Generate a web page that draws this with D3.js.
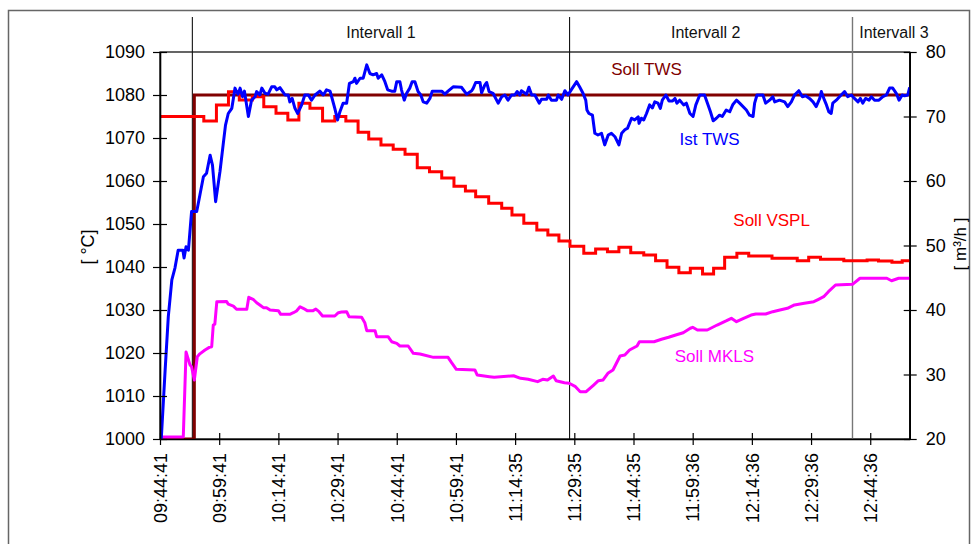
<!DOCTYPE html>
<html>
<head>
<meta charset="utf-8">
<script src="https://cdn.jsdelivr.net/npm/d3@7"></script>
<style>
  body { margin: 0; background: #fff; }
  text { font-family: "Liberation Sans", Arial, sans-serif; }
</style>
</head>
<body>
<script>
// time axis in minutes after 09:44:41, one label every 15 min
const tickLabels = ["09:44:41","09:59:41","10:14:41","10:29:41","10:44:41","10:59:41",
  "11:14:35","11:29:35","11:44:35","11:59:36","12:14:36","12:29:36","12:44:36"];
const tickStep = 15;

const intervalBounds = [8.2, 103.8, 175.5];
const intervalNames = ["Intervall 1", "Intervall 2", "Intervall 3"];
const intervalLabelAt = [56, 138.3, 186];

// [minute, °C]
const sollTWS = [[0,1000],[8.7,1000],[8.7,1080],[190,1080]];

// [minute, °C]
const istTWS = [
  [0.2,998],[1.3,1016],[2.1,1028.4],[3.0,1037],[3.8,1039.8],[4.6,1043.9],[5.8,1043.9],[6.1,1042.1],
  [6.6,1044.7],[7.2,1043.9],[8.0,1052.9],[9.3,1052.9],[10.1,1056.7],[11.0,1061],[11.8,1061.8],
  [12.7,1066],[13.3,1063.7],[14.1,1055.2],[15.2,1062.2],[16.0,1068.4],[16.6,1073],[17.3,1075.7],
  [18.2,1076.9],[18.6,1079.2],[19.0,1081.6],[19.4,1080.8],[19.8,1080.2],[20.3,1081.6],[20.9,1079.6],
  [21.4,1080.9],[22.4,1075],[23.2,1078.8],[24.1,1079.6],[24.5,1080.8],[25.3,1080],[25.8,1081.6],
  [26.6,1080.4],[27.4,1080.2],[28.3,1081.9],[29.1,1081.9],[29.6,1081.2],[30.4,1081.7],[30.8,1081.2],
  [31.7,1080],[32.5,1080],[32.9,1078.4],[33.5,1079.2],[34.2,1076.9],[34.9,1075.7],[35.9,1077.7],
  [36.7,1080],[37.6,1080],[38.4,1078.8],[39.3,1080],[40.5,1080.9],[41.4,1080],[42.2,1081.2],
  [43.1,1080.9],[43.5,1079.6],[44.3,1076.9],[45.0,1074.2],[45.6,1076.1],[46.4,1078.1],[47.3,1078.1],
  [48.0,1082.7],[49.0,1083.1],[49.4,1083.9],[49.8,1082.7],[50.7,1083.9],[51.5,1083.9],[52.4,1087],
  [53.2,1085],[54.0,1084.7],[54.9,1085],[55.3,1083.9],[56.2,1084.7],[57.0,1083.1],[57.7,1081.2],
  [58.7,1080.9],[59.5,1080.9],[60.0,1083.1],[60.8,1083.1],[61.2,1081.2],[61.9,1078.8],[62.5,1080.4],
  [63.3,1081.6],[63.9,1083.1],[64.6,1083.1],[65.4,1080.8],[66.1,1080],[66.7,1078.4],[67.6,1078.1],
  [68.4,1079.2],[69.0,1080.9],[70.1,1080.9],[71.4,1080.9],[72.2,1080.2],[73.0,1080.9],[74.3,1081.9],
  [76.4,1081.8],[77.7,1080.2],[79.0,1081],[79.4,1081.6],[80.0,1082.9],[81.1,1082.9],[81.5,1080.5],
  [82.3,1082.3],[82.8,1082.9],[83.4,1080.8],[84.4,1080.4],[85.7,1078.1],[86.6,1079.6],[87.4,1080],
  [88.2,1078.8],[89.1,1080],[89.9,1080],[90.5,1080.8],[91.2,1080],[91.6,1081],[92.9,1080.2],
  [93.5,1081.8],[94.2,1080],[95.0,1080],[96.1,1078.1],[96.7,1079],[98.0,1079],[98.4,1080],
  [99.2,1078.8],[100.5,1078.8],[100.9,1080],[101.8,1079],[102.6,1081],[103.4,1080],[104.3,1081.3],
  [105.6,1083.1],[106.4,1081.8],[107.2,1080.4],[107.9,1078.8],[108.2,1076.5],[108.7,1075.7],
  [109.6,1075.3],[110.2,1071.1],[111.0,1070.7],[111.9,1071.1],[112.7,1068.4],[113.6,1070.7],
  [114.4,1071.1],[115.3,1070.3],[116.3,1068.4],[117.0,1071.1],[117.8,1071.9],[118.5,1072.3],
  [119.5,1074.6],[120.3,1074.2],[121.2,1074.9],[121.4,1073.4],[122.0,1074.6],[122.6,1074.2],
  [123.3,1075.7],[124.1,1077.7],[124.8,1077],[125.4,1078.4],[126.2,1078.1],[126.8,1076.9],
  [127.3,1078.8],[128.2,1080],[129.0,1078.6],[129.9,1078.6],[130.5,1079.2],[131.0,1078.1],
  [131.7,1078.8],[132.7,1077.7],[133.4,1078.1],[134.3,1075.7],[135.1,1075],[135.8,1077.7],
  [136.8,1080],[138.0,1080],[138.9,1077.7],[139.5,1076.1],[140.2,1074],[141.0,1074.6],[141.8,1075.3],
  [142.5,1075],[143.5,1076.5],[144.4,1076.1],[145.2,1077.8],[146.1,1078.8],[146.9,1078.1],
  [148.6,1076.5],[149.4,1075.3],[150.3,1075],[150.7,1078.1],[151.3,1080],[152.8,1080],[153.5,1078.1],
  [154.5,1078.8],[155.3,1079.6],[155.8,1078.4],[157.0,1078.8],[158.3,1078.4],[159.1,1077.3],
  [160.0,1078.4],[160.8,1080],[161.9,1081],[162.8,1079.6],[163.6,1079.8],[164.6,1079.2],
  [165.5,1078.4],[166.3,1077.3],[167.2,1079.2],[167.6,1080.8],[168.4,1078.8],[168.9,1077.7],
  [169.5,1076.1],[170.1,1075.7],[170.5,1078.1],[171.4,1078.8],[172.2,1079.6],[173.5,1080.8],
  [174.3,1079.6],[175.2,1080],[176.0,1079.2],[176.9,1078.4],[177.5,1079.2],[178.1,1078.1],
  [178.8,1079.2],[179.7,1078.8],[180.3,1079.6],[181.1,1078.8],[182.2,1078.8],[183.2,1079.6],
  [184.1,1080],[184.9,1081.6],[185.7,1081.6],[186.6,1080.4],[187.3,1078.8],[188.1,1080],
  [188.7,1079.8],[189.5,1080],[190,1081.8]
];

// [minute, m³/h] step values
const sollVSPL = [
  [0,70],[11.1,69.3],[14.3,71.8],[17.35,73.85],[20.1,72.56],[23.4,73.07],[26.3,71.52],[29.4,70.5],
  [32.4,69.46],[35.2,72.05],[38.0,71.27],[41.2,69.3],[44.3,70],[47.1,69.3],[50.2,67.55],[52.9,66.51],
  [56.0,65.58],[59.1,64.91],[62.1,64.14],[65.2,62.06],[68.3,61.44],[71.4,60.46],[74.5,59.2],
  [77.4,58.45],[80.0,57.57],[83.3,56.55],[86.6,55.77],[89.2,54.73],[92.2,53.44],[95.5,52.4],
  [98.3,51.63],[101.1,50.7],[103.9,49.9],[107.4,48.79],[110.4,49.45],[113.4,49.04],[116.3,49.72],
  [119.3,48.89],[122.6,48.53],[125.6,47.65],[128.5,46.62],[131.5,45.79],[134.4,46.47],[137.5,45.58],
  [140.3,46.47],[143.1,48.17],[146.2,48.79],[149.2,48.37],[155.1,48.02],[161.5,47.65],[164.4,48.17],
  [167.4,47.86],[173.3,47.65],[179.2,47.75],[182.1,47.6],[185.5,47.4],[188.1,47.65],[190,47.65]
];

// [minute, m³/h]
const sollMKLS = [
  [0,20.3],[5.9,20.3],[6.6,33.5],[7.6,31.5],[8.0,31.2],[8.7,29.15],[9.45,32.76],[10.1,33.2],
  [11.4,33.8],[12.5,34.2],[13.1,34.3],[13.5,37.67],[13.9,37.8],[14.4,41.29],[16.9,41.3],[17.3,40.9],
  [18.6,40.6],[19.4,40.11],[22.0,40.1],[22.5,41.97],[23.6,41.66],[24.5,41.13],[25.3,40.78],
  [26.2,40.36],[27.0,40.36],[27.9,40],[30.0,39.9],[30.6,39.33],[32.9,39.33],[33.8,39.58],
  [34.6,39.85],[35.5,40.5],[36.3,40.26],[37.3,39.9],[38.8,39.9],[39.5,40.15],[40.3,39.74],
  [41.2,39.07],[44.3,39.07],[45.2,39.58],[46.0,39.69],[47.3,39.74],[47.9,38.96],[51.1,38.87],
  [51.9,38.03],[52.4,36.79],[54.5,36.79],[54.9,35.86],[57.8,35.86],[58.7,35.08],[60.0,34.83],
  [60.8,34.42],[62.9,34.42],[64.2,33.29],[65.9,33.18],[69.3,32.66],[73.0,32.66],[73.9,31.83],
  [75.1,30.8],[79.8,30.7],[80.4,29.92],[83.5,29.66],[84.7,29.57],[89.6,29.81],[91.4,29.41],
  [93.3,29.26],[95.7,28.89],[97.0,29.26],[98.2,29.15],[99.7,29.77],[100.4,29.04],[102.5,28.73],
  [103.7,28.64],[105.3,28.11],[106.5,27.33],[108.0,27.33],[109.9,28.37],[111.1,29.04],[112.3,29.15],
  [113.5,30.19],[114.8,30.7],[116.6,32.87],[117.8,33.02],[119.0,33.8],[120.9,34.42],[121.5,35.08],
  [125.2,35.08],[127.1,35.46],[128.9,35.77],[130.7,36.13],[132.6,36.48],[134.4,37.17],[135.0,37.32],
  [136.2,36.9],[138.7,36.9],[141.2,37.67],[143.6,38.34],[144.8,38.71],[146.1,38.19],[147.9,38.71],
  [149.8,39.22],[151.0,39.38],[153.5,39.38],[155.3,39.74],[157.1,40],[159.0,40.26],[160.8,40.78],
  [163.3,41.04],[165.7,41.29],[166.9,41.66],[168.2,42.06],[169.4,42.84],[171.2,43.88],[175.5,43.98],
  [177.4,44.92],[184.2,44.92],[185.4,44.54],[187.2,44.92],[190,44.92]
];

// label anchors: [name, minute, value, axis, colour]
const seriesLabels = [
  ["Soll TWS", 123.3, 1084.7, "L", "#800000"],
  ["Ist TWS", 139.3, 1068.4, "L", "#0000ff"],
  ["Soll VSPL", 155.0, 53.0, "R", "#ff0000"],
  ["Soll MKLS", 140.5, 32.0, "R", "#ff00ff"]
];

const width = 972, height = 544;
const pL = 160, pR = 909.7, pT = 52, pB = 439;

const svg = d3.select("body").append("svg")
  .attr("width", width).attr("height", height);

svg.append("rect").attr("width", width).attr("height", height).attr("fill", "#fff");

// outer frame
svg.append("rect")
  .attr("x", 8.5).attr("y", 10.5).attr("width", 961).attr("height", 560)
  .attr("fill", "none").attr("stroke", "#666").attr("stroke-width", 1.5);

const x = d3.scaleLinear().domain([0, 190]).range([pL, pR]);
const yL = d3.scaleLinear().domain([1000, 1090]).range([pB, pT]);
const yR = d3.scaleLinear().domain([20, 80]).range([pB, pT]);

// plot box
svg.append("rect")
  .attr("x", pL).attr("y", pT).attr("width", pR - pL).attr("height", pB - pT)
  .attr("fill", "none").attr("stroke", "#000").attr("stroke-width", 1.2);

// interval separators + names
svg.selectAll(".ivl").data(intervalBounds).join("line")
  .attr("class", "ivl")
  .attr("x1", d => x(d)).attr("x2", d => x(d))
  .attr("y1", 17).attr("y2", pB)
  .attr("stroke", (d, i) => i == 2 ? "#777" : "#111")
  .attr("stroke-width", (d, i) => i == 2 ? 1.4 : 1.1);

svg.selectAll(".ivlname").data(intervalNames).join("text")
  .attr("class", "ivlname")
  .attr("x", (d, i) => x(intervalLabelAt[i]))
  .attr("y", 38)
  .attr("text-anchor", "middle")
  .attr("font-size", 16)
  .attr("fill", "#111")
  .text(d => d);

svg.append("clipPath").attr("id", "plot")
  .append("rect").attr("x", pL).attr("y", pT - 2)
  .attr("width", pR - pL + 2).attr("height", pB - pT + 3);

const g = svg.append("g").attr("clip-path", "url(#plot)");

const lineL = d3.line().x(d => x(d[0])).y(d => yL(d[1]));
const lineR = d3.line().x(d => x(d[0])).y(d => yR(d[1]));

g.append("path").attr("d", lineL(sollTWS))
  .attr("fill", "none").attr("stroke", "#800000").attr("stroke-width", 3);
g.append("path").attr("d", lineR(sollMKLS))
  .attr("fill", "none").attr("stroke", "#ff00ff").attr("stroke-width", 3)
  .attr("stroke-linejoin", "round");
g.append("path").attr("d", lineR.curve(d3.curveStepAfter)(sollVSPL))
  .attr("fill", "none").attr("stroke", "#ff0000").attr("stroke-width", 3);
g.append("path").attr("d", lineL(istTWS))
  .attr("fill", "none").attr("stroke", "#0000ff").attr("stroke-width", 3)
  .attr("stroke-linejoin", "round");

svg.selectAll(".slab").data(seriesLabels).join("text")
  .attr("class", "slab")
  .attr("x", d => x(d[1]))
  .attr("y", d => d[3] == "L" ? yL(d[2]) : yR(d[2]))
  .attr("text-anchor", "middle")
  .attr("font-size", 17)
  .attr("fill", d => d[4])
  .text(d => d[0]);

// axes
const axL = svg.append("g").attr("transform", `translate(${pL},0)`)
  .call(d3.axisLeft(yL).tickValues(d3.range(1000, 1091, 10)).tickFormat(d3.format("d"))
    .tickSize(7).tickSizeOuter(0).tickPadding(8));
axL.selectAll(".tick line").attr("x1", 7);

const axR = svg.append("g").attr("transform", `translate(${pR},0)`)
  .call(d3.axisRight(yR).tickValues(d3.range(20, 81, 10)).tickFormat(d3.format("d"))
    .tickSize(7).tickSizeOuter(0).tickPadding(9));
axR.selectAll(".tick line").attr("x1", -6);

const axB = svg.append("g").attr("transform", `translate(0,${pB})`)
  .call(d3.axisBottom(x).tickValues(tickLabels.map((t, i) => i * tickStep))
    .tickFormat((d, i) => tickLabels[i]).tickSize(6).tickSizeOuter(0));
axB.selectAll(".tick line").attr("y1", -6);
axB.selectAll(".tick text")
  .attr("transform", "rotate(-90)")
  .attr("text-anchor", "end")
  .attr("x", -14).attr("y", 0).attr("dy", "0.35em");

[axL, axR, axB].forEach(a => {
  a.attr("font-family", null).attr("font-size", null);
  a.selectAll("text").attr("font-size", 18).attr("fill", "#000");
  a.selectAll("line").attr("stroke", "#000").attr("stroke-width", 1.2);
  a.select(".domain").attr("stroke", "#000").attr("stroke-width", 1.6);
});

// axis titles
svg.append("text")
  .attr("transform", "translate(94,247) rotate(-90)")
  .attr("text-anchor", "middle").attr("font-size", 18)
  .text("[ °C]");
svg.append("text")
  .attr("transform", "translate(966,244) rotate(-90)")
  .attr("text-anchor", "middle").attr("font-size", 17)
  .text("[ m³/h ]");
</script>
</body>
</html>
